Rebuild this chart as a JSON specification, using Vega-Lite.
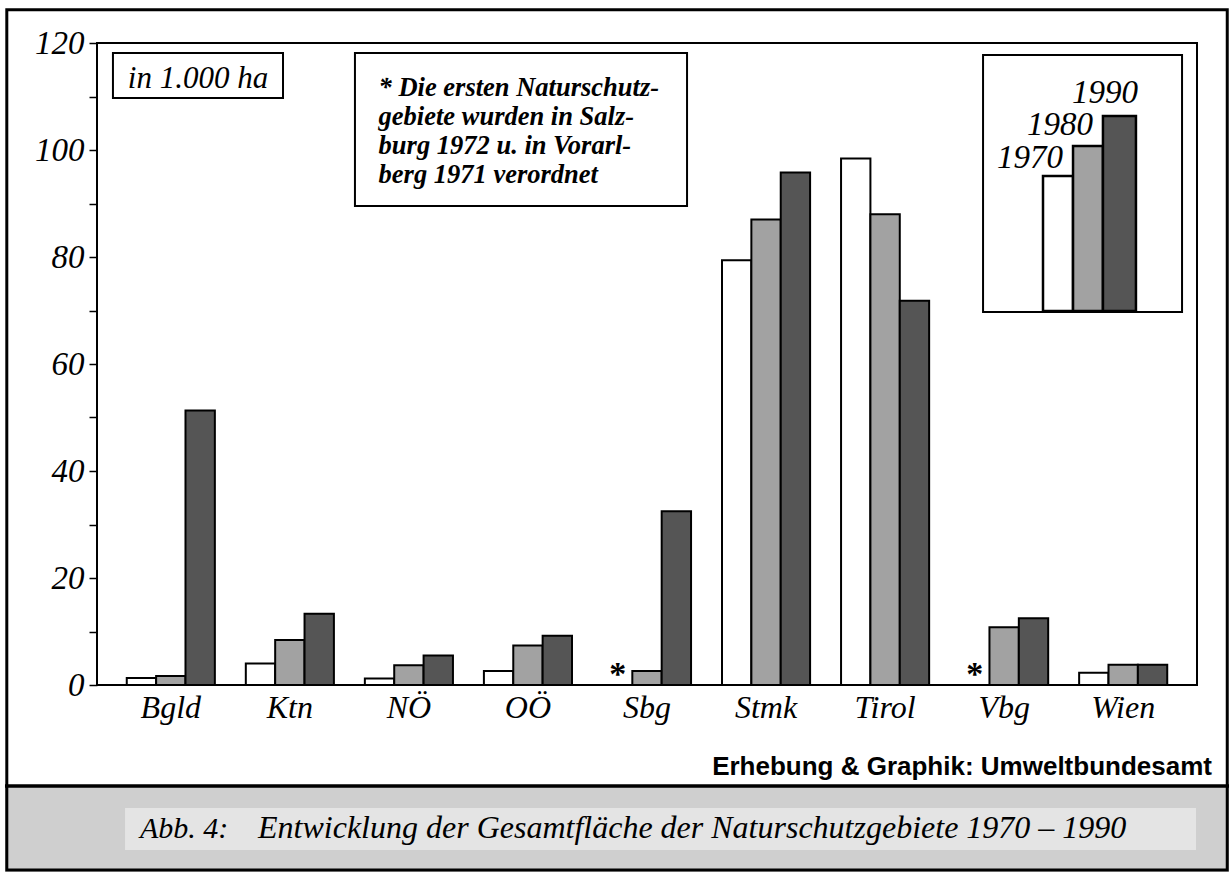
{
  "$schema": "https://vega.github.io/schema/vega-lite/v6.json",
  "width": 1100,
  "height": 642,
  "autosize": {"type": "none"},
  "padding": {"left": 97, "top": 43, "right": 35, "bottom": 187},
  "background": "white",
  "config": {
    "view": {"stroke": "black", "strokeWidth": 2},
    "font": "Liberation Serif"
  },
  "datasets": {
    "bars": [
      {"region": "Bgld", "year": "1970", "value": 1.3},
      {"region": "Bgld", "year": "1980", "value": 1.7},
      {"region": "Bgld", "year": "1990", "value": 51.3},
      {"region": "Ktn", "year": "1970", "value": 4.0},
      {"region": "Ktn", "year": "1980", "value": 8.4},
      {"region": "Ktn", "year": "1990", "value": 13.3},
      {"region": "NÖ", "year": "1970", "value": 1.2},
      {"region": "NÖ", "year": "1980", "value": 3.7},
      {"region": "NÖ", "year": "1990", "value": 5.5},
      {"region": "OÖ", "year": "1970", "value": 2.6},
      {"region": "OÖ", "year": "1980", "value": 7.4},
      {"region": "OÖ", "year": "1990", "value": 9.2},
      {"region": "Sbg", "year": "1970", "value": null, "note": "*"},
      {"region": "Sbg", "year": "1980", "value": 2.6},
      {"region": "Sbg", "year": "1990", "value": 32.5},
      {"region": "Stmk", "year": "1970", "value": 79.4},
      {"region": "Stmk", "year": "1980", "value": 87.0},
      {"region": "Stmk", "year": "1990", "value": 95.8},
      {"region": "Tirol", "year": "1970", "value": 98.4},
      {"region": "Tirol", "year": "1980", "value": 88.0},
      {"region": "Tirol", "year": "1990", "value": 71.8},
      {"region": "Vbg", "year": "1970", "value": null, "note": "*"},
      {"region": "Vbg", "year": "1980", "value": 10.8},
      {"region": "Vbg", "year": "1990", "value": 12.5},
      {"region": "Wien", "year": "1970", "value": 2.3},
      {"region": "Wien", "year": "1980", "value": 3.8},
      {"region": "Wien", "year": "1990", "value": 3.8}
    ],
    "band": [{"u1": -8.364, "u2": 102.909, "v1": -19.07, "v2": -34.95}],
    "inset": [{"u1": 2.55, "u2": 99.91, "v1": -22.99, "v2": -30.84}],
    "frame": [{"u1": -8.2, "u2": 102.75, "v1": 126.2, "v2": -34.6}],
    "sep": [{"u1": -8.364, "u2": 102.909, "v": -18.88}],
    "boxes": [
      {"box": "unit", "u1": 1.45, "u2": 16.91, "v1": 118.13, "v2": 109.72},
      {"box": "note", "u1": 23.45, "u2": 53.64, "v1": 118.13, "v2": 89.53},
      {"box": "legend", "u1": 80.55, "u2": 98.64, "v1": 117.76, "v2": 69.72}
    ],
    "noteLines": [
      {"u": 25.6, "v": 110.09, "label": "* Die ersten Naturschutz-"},
      {"u": 25.6, "v": 104.67, "label": "gebiete wurden in Salz-"},
      {"u": 25.6, "v": 99.25, "label": "burg 1972 u. in Vorarl-"},
      {"u": 25.6, "v": 93.83, "label": "berg 1971 verordnet"}
    ],
    "unitLabel": [{"u": 9.18, "v": 111.59, "label": "in 1.000 ha"}],
    "legendBars": [
      {"year": "1970", "u1": 86.0, "u2": 88.73, "v1": 95.14, "v2": 69.91},
      {"year": "1980", "u1": 88.73, "u2": 91.45, "v1": 100.75, "v2": 69.91},
      {"year": "1990", "u1": 91.45, "u2": 94.45, "v1": 106.36, "v2": 69.91}
    ],
    "legendLabels": [
      {"u": 87.82, "v": 96.64, "label": "1970"},
      {"u": 90.55, "v": 102.8, "label": "1980"},
      {"u": 94.64, "v": 108.79, "label": "1990"}
    ],
    "source": [{"u": 101.36, "v": -16.82, "label": "Erhebung & Graphik: Umweltbundesamt"}],
    "captionNo": [{"u": 3.9, "v": -28.6, "label": "Abb. 4:"}],
    "captionText": [{"u": 14.64, "v": -28.6, "label": "Entwicklung der Gesamtfläche der Naturschutzgebiete 1970 – 1990"}]
  },
  "layer": [
    {
      "data": {"name": "bars"},
      "mark": {"type": "bar", "stroke": "black", "strokeWidth": 2},
      "encoding": {
        "x": {
          "field": "region", "type": "nominal",
          "scale": {"domain": ["Bgld", "Ktn", "NÖ", "OÖ", "Sbg", "Stmk", "Tirol", "Vbg", "Wien"], "paddingInner": 0.26, "paddingOuter": 0.25},
          "axis": {"title": null, "ticks": false, "domain": false, "labelAngle": 0, "labelFont": "Liberation Serif", "labelFontStyle": "italic", "labelFontSize": 32, "labelColor": "black", "labelPadding": 7}
        },
        "xOffset": {"field": "year", "type": "nominal", "scale": {"domain": ["1970", "1980", "1990"], "paddingInner": 0, "paddingOuter": 0}},
        "y": {
          "field": "value", "type": "quantitative",
          "scale": {"domain": [0, 120]},
          "axis": {"title": null, "orient": "left", "values": [0, 10, 20, 30, 40, 50, 60, 70, 80, 90, 100, 110, 120], "labelExpr": "datum.value % 20 === 0 ? datum.label : ''", "grid": false, "domain": false, "ticks": true, "tickSize": 8, "tickWidth": 1.5, "tickColor": "black", "labelFont": "Liberation Serif", "labelFontStyle": "italic", "labelFontSize": 33, "labelColor": "black", "labelPadding": 5, "labelFlush": false, "labelOverlap": false}
        },
        "color": {"field": "year", "type": "nominal", "scale": {"domain": ["1970", "1980", "1990"], "range": ["#ffffff", "#a2a2a2", "#555555"]}, "legend": null}
      }
    },
    {
      "data": {"name": "bars"},
      "transform": [{"filter": "datum.note != null"}],
      "mark": {"type": "text", "font": "Liberation Serif", "fontWeight": "bold", "fontSize": 34, "baseline": "alphabetic", "align": "center", "color": "black"},
      "encoding": {
        "x": {"field": "region", "type": "nominal", "scale": {"domain": ["Bgld", "Ktn", "NÖ", "OÖ", "Sbg", "Stmk", "Tirol", "Vbg", "Wien"], "paddingInner": 0.26, "paddingOuter": 0.25}, "axis": null},
        "xOffset": {"field": "year", "type": "nominal", "scale": {"domain": ["1970", "1980", "1990"], "paddingInner": 0, "paddingOuter": 0}},
        "y": {"datum": 0, "type": "quantitative", "scale": {"domain": [0, 120]}, "axis": null},
        "text": {"field": "note"}
      }
    },
    {
      "data": {"name": "band"},
      "mark": {"type": "rect", "fill": "#cfcfcf"},
      "encoding": {
        "x": {"field": "u1", "type": "quantitative", "scale": {"domain": [0, 100]}, "axis": null},
        "x2": {"field": "u2"},
        "y": {"field": "v1", "type": "quantitative", "scale": {"domain": [0, 120]}, "axis": null},
        "y2": {"field": "v2"}
      }
    },
    {
      "data": {"name": "inset"},
      "mark": {"type": "rect", "fill": "#e4e4e4"},
      "encoding": {
        "x": {"field": "u1", "type": "quantitative", "scale": {"domain": [0, 100]}, "axis": null},
        "x2": {"field": "u2"},
        "y": {"field": "v1", "type": "quantitative", "scale": {"domain": [0, 120]}, "axis": null},
        "y2": {"field": "v2"}
      }
    },
    {
      "data": {"name": "frame"},
      "mark": {"type": "rect", "fill": "white", "fillOpacity": 0, "stroke": "black", "strokeWidth": 3},
      "encoding": {
        "x": {"field": "u1", "type": "quantitative", "scale": {"domain": [0, 100]}, "axis": null},
        "x2": {"field": "u2"},
        "y": {"field": "v1", "type": "quantitative", "scale": {"domain": [0, 120]}, "axis": null},
        "y2": {"field": "v2"}
      }
    },
    {
      "data": {"name": "sep"},
      "mark": {"type": "rule", "stroke": "black", "strokeWidth": 3.5},
      "encoding": {
        "x": {"field": "u1", "type": "quantitative", "scale": {"domain": [0, 100]}, "axis": null},
        "x2": {"field": "u2"},
        "y": {"field": "v", "type": "quantitative", "scale": {"domain": [0, 120]}, "axis": null}
      }
    },
    {
      "data": {"name": "boxes"},
      "mark": {"type": "rect", "fill": "white", "stroke": "black", "strokeWidth": 2},
      "encoding": {
        "x": {"field": "u1", "type": "quantitative", "scale": {"domain": [0, 100]}, "axis": null},
        "x2": {"field": "u2"},
        "y": {"field": "v1", "type": "quantitative", "scale": {"domain": [0, 120]}, "axis": null},
        "y2": {"field": "v2"}
      }
    },
    {
      "data": {"name": "noteLines"},
      "mark": {"type": "text", "font": "Liberation Serif", "fontStyle": "italic", "fontWeight": "bold", "fontSize": 26.5, "align": "left", "baseline": "alphabetic", "color": "black"},
      "encoding": {
        "x": {"field": "u", "type": "quantitative", "scale": {"domain": [0, 100]}, "axis": null},
        "y": {"field": "v", "type": "quantitative", "scale": {"domain": [0, 120]}, "axis": null},
        "text": {"field": "label"}
      }
    },
    {
      "data": {"name": "unitLabel"},
      "mark": {"type": "text", "font": "Liberation Serif", "fontStyle": "italic", "fontSize": 31, "align": "center", "baseline": "alphabetic", "color": "black"},
      "encoding": {
        "x": {"field": "u", "type": "quantitative", "scale": {"domain": [0, 100]}, "axis": null},
        "y": {"field": "v", "type": "quantitative", "scale": {"domain": [0, 120]}, "axis": null},
        "text": {"field": "label"}
      }
    },
    {
      "data": {"name": "legendBars"},
      "mark": {"type": "rect", "stroke": "black", "strokeWidth": 2.5},
      "encoding": {
        "x": {"field": "u1", "type": "quantitative", "scale": {"domain": [0, 100]}, "axis": null},
        "x2": {"field": "u2"},
        "y": {"field": "v1", "type": "quantitative", "scale": {"domain": [0, 120]}, "axis": null},
        "y2": {"field": "v2"},
        "color": {"field": "year", "type": "nominal", "scale": {"domain": ["1970", "1980", "1990"], "range": ["#ffffff", "#a2a2a2", "#555555"]}, "legend": null}
      }
    },
    {
      "data": {"name": "legendLabels"},
      "mark": {"type": "text", "font": "Liberation Serif", "fontStyle": "italic", "fontSize": 33, "align": "right", "baseline": "alphabetic", "color": "black"},
      "encoding": {
        "x": {"field": "u", "type": "quantitative", "scale": {"domain": [0, 100]}, "axis": null},
        "y": {"field": "v", "type": "quantitative", "scale": {"domain": [0, 120]}, "axis": null},
        "text": {"field": "label"}
      }
    },
    {
      "data": {"name": "source"},
      "mark": {"type": "text", "font": "Liberation Sans", "fontWeight": "bold", "fontSize": 26, "align": "right", "baseline": "alphabetic", "color": "black"},
      "encoding": {
        "x": {"field": "u", "type": "quantitative", "scale": {"domain": [0, 100]}, "axis": null},
        "y": {"field": "v", "type": "quantitative", "scale": {"domain": [0, 120]}, "axis": null},
        "text": {"field": "label"}
      }
    },
    {
      "data": {"name": "captionNo"},
      "mark": {"type": "text", "font": "Liberation Serif", "fontStyle": "italic", "fontSize": 30, "align": "left", "baseline": "alphabetic", "color": "black"},
      "encoding": {
        "x": {"field": "u", "type": "quantitative", "scale": {"domain": [0, 100]}, "axis": null},
        "y": {"field": "v", "type": "quantitative", "scale": {"domain": [0, 120]}, "axis": null},
        "text": {"field": "label"}
      }
    },
    {
      "data": {"name": "captionText"},
      "mark": {"type": "text", "font": "Liberation Serif", "fontStyle": "italic", "fontSize": 32, "align": "left", "baseline": "alphabetic", "color": "black"},
      "encoding": {
        "x": {"field": "u", "type": "quantitative", "scale": {"domain": [0, 100]}, "axis": null},
        "y": {"field": "v", "type": "quantitative", "scale": {"domain": [0, 120]}, "axis": null},
        "text": {"field": "label"}
      }
    }
  ],
  "resolve": {"scale": {"x": "independent", "y": "independent"}}
}
